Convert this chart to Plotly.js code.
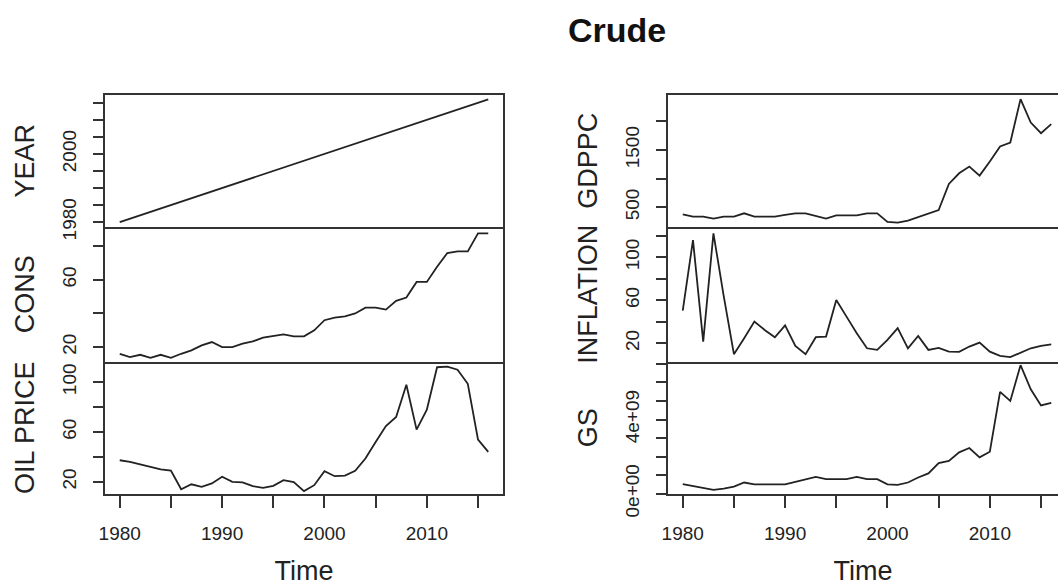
<!DOCTYPE html>
<html>
<head>
<meta charset="utf-8">
<script src="https://cdn.plot.ly/plotly-3.0.1.min.js"></script>
<style>html,body{margin:0;padding:0;background:#fff;}#chart{width:1058px;height:586px;}</style>
</head>
<body>
<div id="chart"></div>
<script>
// ---- data ----
const years = [1980,1981,1982,1983,1984,1985,1986,1987,1988,1989,1990,1991,1992,1993,1994,1995,1996,1997,1998,1999,2000,2001,2002,2003,2004,2005,2006,2007,2008,2009,2010,2011,2012,2013,2014,2015,2016];
const yearSeries = [1980,1981,1982,1983,1984,1985,1986,1987,1988,1989,1990,1991,1992,1993,1994,1995,1996,1997,1998,1999,2000,2001,2002,2003,2004,2005,2006,2007,2008,2009,2010,2011,2012,2013,2014,2015,2016];
const cons = [16,14,15.4,13.6,15.4,13.6,16,18,21,23,20,20,22,23.4,25.6,26.6,27.6,26.4,26.4,30,36,37.5,38.3,40,43.5,43.5,42.3,47.5,49.5,58.8,58.8,67.8,76,77,77,87.7,87.7];
const oilPrice = [37.3,36,34,32,30,29,14,18,16,18.7,24,20,19.5,16.5,15.2,16.8,21.3,19.7,12.5,17.3,28.5,24.5,25,28.8,38.7,52,64.8,72,97.9,61.9,77.9,112,112.5,110,98.7,53.9,44];
const gdppc = [378,337,337,302,337,337,395,337,337,337,366,395,395,348,302,360,360,360,395,395,244,232,267,325,383,453,908,1094,1211,1054,1298,1561,1631,2388,1980,1794,1951];
const inflation = [50.4,116,21.5,122.3,64,9.8,24.7,40.2,32.4,25.6,36.7,17.5,9.8,25.6,26.2,60.3,44.8,29.3,15.3,13.8,23.1,34,15.3,26.8,13.8,15.7,12.2,12,16.9,20.6,12.2,8.2,7,11.3,15.3,17.5,19];
const gs = [0.51e9,0.41e9,0.33e9,0.2e9,0.27e9,0.38e9,0.6e9,0.5e9,0.5e9,0.5e9,0.5e9,0.63e9,0.78e9,0.9e9,0.78e9,0.78e9,0.78e9,0.9e9,0.78e9,0.78e9,0.5e9,0.47e9,0.6e9,0.87e9,1.09e9,1.65e9,1.77e9,2.23e9,2.46e9,1.96e9,2.26e9,5.49e9,5.0e9,6.93e9,5.63e9,4.76e9,4.9e9];

const seriesNames = ['YEAR','CONS','OIL PRICE','GDPPC','INFLATION','GS'];
const xTickVals = [1980,1985,1990,1995,2000,2005,2010,2015];
const xTickText = ['1980','','1990','','2000','','2010',''];
const yTicks = {
  YEAR: {vals:[1980,1985,1990,1995,2000,2005,2010,2015], text:['1980','','','','2000','','','']},
  CONS: {vals:[20,40,60,80], text:['20','','60','']},
  OIL:  {vals:[20,40,60,80,100], text:['20','','60','','100']},
  GDPPC:{vals:[500,1000,1500,2000], text:['500','','1500','']},
  INFL: {vals:[20,40,60,80,100,120], text:['20','','60','','100','']},
  GS:   {vals:[0,1e9,2e9,3e9,4e9,5e9,6e9,7e9], text:['0e+00','','','','4e+09','','','']}
};

// ---- layout geometry ----
const W = 1058, H = 586;
const FONT = 'Liberation Sans, Arial, Helvetica, sans-serif';
const INK = '#222';
const px = v => v / W;
const py = v => 1 - v / H;
const leftDom = [px(105), px(503)];
const rightDom = [px(668), 1];
const rowDom = [[py(227), py(94.5)], [py(361.5), py(227)], [py(494), py(361.5)]];

const seriesData = [yearSeries, cons, oilPrice, gdppc, inflation, gs];
const traces = seriesData.map((d, i) => ({
  x: years, y: d, type: 'scatter', mode: 'lines',
  xaxis: 'x' + (i === 0 ? '' : i + 1), yaxis: 'y' + (i === 0 ? '' : i + 1),
  line: {color: INK, width: 1.8}, hoverinfo: 'x+y', showlegend: false
}));

function xAxis(i, dom, range, top, bottom) {
  return {
    domain: dom, range: range, anchor: 'y' + (i === 1 ? '' : i),
    showgrid: false, zeroline: false, showline: true, mirror: top,
    linecolor: '#333', linewidth: 2,
    ticks: bottom ? 'outside' : '', ticklen: 12, tickwidth: 2, tickcolor: '#333',
    tickmode: 'array', tickvals: xTickVals, ticktext: xTickText,
    showticklabels: bottom, tickfont: {family: FONT, size: 19, color: INK},
    ticklabelstandoff: 9,
    title: bottom ? {text: 'Time', font: {family: FONT, size: 27, color: INK}, standoff: 22} : {text: ''}
  };
}
function yAxis(i, dom, range, ticks, title, mirror) {
  return {
    domain: dom, range: range, anchor: 'x' + (i === 1 ? '' : i),
    showgrid: false, zeroline: false, showline: true, mirror: mirror,
    linecolor: '#333', linewidth: 2,
    ticks: 'outside', ticklen: 10, tickwidth: 2, tickcolor: '#333',
    tickmode: 'array', tickvals: ticks.vals, ticktext: ticks.text,
    tickangle: -90, tickfont: {family: FONT, size: 19, color: INK},
    ticklabelstandoff: 9,
    title: {text: title, font: {family: FONT, size: 27, color: INK}, standoff: 17}
  };
}

const xRangeL = [1978.56, 2017.44];
const xRangeR = [1978.56, 2016.66];

const layout = {
  width: W, height: H,
  margin: {l: 0, r: 0, t: 0, b: 0},
  paper_bgcolor: '#fff', plot_bgcolor: '#fff',
  font: {family: FONT, color: INK},
  title: {text: '<b>Crude</b>', x: 617 / W, xanchor: 'center', y: py(30), yanchor: 'middle',
          font: {family: FONT, size: 34, color: '#111'}},
  xaxis:  xAxis(1, leftDom, xRangeL, true, false),
  xaxis2: xAxis(2, leftDom, xRangeL, false, false),
  xaxis3: xAxis(3, leftDom, xRangeL, false, true),
  xaxis4: xAxis(4, rightDom, xRangeR, true, false),
  xaxis5: xAxis(5, rightDom, xRangeR, false, false),
  xaxis6: xAxis(6, rightDom, xRangeR, false, true),
  yaxis:  yAxis(1, rowDom[0], [1978.56, 2017.44], yTicks.YEAR, seriesNames[0], true),
  yaxis2: yAxis(2, rowDom[1], [11.4, 91.5], yTicks.CONS, seriesNames[1], true),
  yaxis3: yAxis(3, rowDom[2], [10.2, 116.6], yTicks.OIL, seriesNames[2], true),
  yaxis4: yAxis(4, rowDom[0], [156, 2469], yTicks.GDPPC, seriesNames[3], false),
  yaxis5: yAxis(5, rowDom[1], [3, 128.2], yTicks.INFL, seriesNames[4], false),
  yaxis6: yAxis(6, rowDom[2], [-0.02e9, 7.13e9], yTicks.GS, seriesNames[5], false)
};

Plotly.newPlot('chart', traces, layout, {displayModeBar: false, staticPlot: true});
</script>
</body>
</html>
